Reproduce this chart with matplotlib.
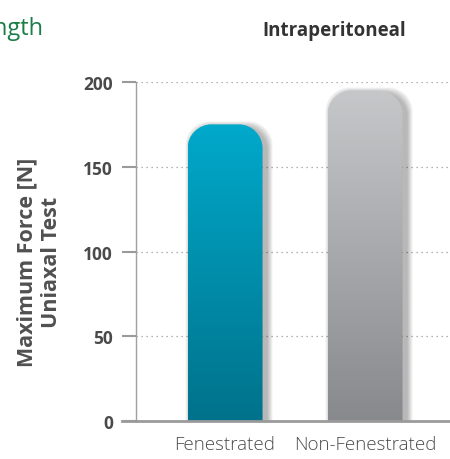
import matplotlib
matplotlib.use('Agg')
import matplotlib.pyplot as plt
import numpy as np
from matplotlib.path import Path
from matplotlib.patches import PathPatch
from matplotlib.colors import LinearSegmentedColormap

categories = ['Fenestrated', 'Non-Fenestrated']
values = [175, 195]
top_colors = ['#00a9cb', '#c6c7c9']
bottom_colors = ['#00728b', '#88898c']
yticks = [0, 50, 100, 150, 200]

plt.rcParams['font.family'] = ['Open Sans', 'DejaVu Sans']

fig = plt.figure(figsize=(4.5, 4.6), dpi=100)
ax = fig.add_axes([136 / 450, 1 - 422 / 460, 1 - 136 / 450, (422 - 83) / 460])

width = 0.536
x = np.arange(len(categories))
ax.set_xlim(-0.636, 1.607)
ax.set_ylim(0, 200)

# px per data unit, used to round the corners
sx = 140.0
sy = 339 / 200.0
r = 24.0


def top_round_path(x0, x1, h, dx=0, dy=0, grow=0):
    rx = r / sx
    ry = r / sy
    x0 = x0 + dx - grow / sx
    x1 = x1 + dx + grow / sx
    top = h + dy + grow / sy
    bot = -20
    k = 0.5523
    verts = [(x0, bot), (x0, top - ry),
             (x0, top - ry + k * ry), (x0 + rx - k * rx, top), (x0 + rx, top),
             (x1 - rx, top),
             (x1 - rx + k * rx, top), (x1, top - ry + k * ry), (x1, top - ry),
             (x1, bot), (x0, bot)]
    codes = [Path.MOVETO, Path.LINETO,
             Path.CURVE4, Path.CURVE4, Path.CURVE4,
             Path.LINETO,
             Path.CURVE4, Path.CURVE4, Path.CURVE4,
             Path.LINETO, Path.CLOSEPOLY]
    return Path(verts, codes)


# grid
for t in yticks[1:]:
    ax.axhline(t, color='#9a9a9a', lw=0.9, ls=(0, (1, 3)), zorder=0)

for i, v in enumerate(values):
    x0 = x[i] - width / 2
    x1 = x[i] + width / 2
    # soft shadow
    for g in range(6, 0, -1):
        sh = PathPatch(top_round_path(x0, x1, v, dx=4 / sx, dy=-3 / sy, grow=g),
                       facecolor='black', edgecolor='none', alpha=0.05, zorder=1)
        ax.add_patch(sh)
    patch = PathPatch(top_round_path(x0, x1, v), facecolor='none', edgecolor='none', zorder=2)
    ax.add_patch(patch)
    cmap = LinearSegmentedColormap.from_list('g%d' % i, [bottom_colors[i], top_colors[i]])
    grad = np.linspace(0, 1, 256).reshape(-1, 1)
    im = ax.imshow(grad, cmap=cmap, aspect='auto', origin='lower',
                   extent=[x0, x1, 0, v], zorder=2)
    im.set_clip_path(patch)

ax.set_xlim(-0.636, 1.607)
ax.set_ylim(0, 200)

for s in ['top', 'right']:
    ax.spines[s].set_visible(False)
ax.spines['left'].set_color('#a0a0a0')
ax.spines['left'].set_linewidth(1.0)
ax.spines['bottom'].set_visible(False)
ax.axhline(0, color='#9a9a9a', lw=2, zorder=3, clip_on=False)
ax.plot([-0.736, -0.636], [0, 0], color='#9a9a9a', lw=2, clip_on=False, zorder=3)

ax.set_yticks(yticks)
ax.set_yticklabels([str(t) for t in yticks], fontweight='bold', fontsize=12.5, color='#4a4a4a')
ax.tick_params(axis='y', length=10, width=1.5, color='#9a9a9a', pad=6.5)
ax.set_xticks(x)
ax.set_xticklabels(categories, fontsize=13.5, color='#4d4d4d', fontweight='light')
ax.tick_params(axis='x', length=0, pad=10)

ax.set_ylabel('Maximum Force [N]\nUniaxal Test', fontsize=15.5, fontweight='bold',
              color='#505050', linespacing=1.25)
ax.yaxis.set_label_coords(-0.235, 0.47)

fig.text(334 / 450, 1 - 31 / 460, 'Intraperitoneal', fontsize=13.5, fontweight='bold',
         color='#333333', ha='center', va='center')
fig.text(43 / 450, 1 - 35 / 460, 'Tensile Strength', fontsize=17, color='#1a7d48',
         ha='right', va='baseline')

fig.savefig('out.png', dpi=100)
